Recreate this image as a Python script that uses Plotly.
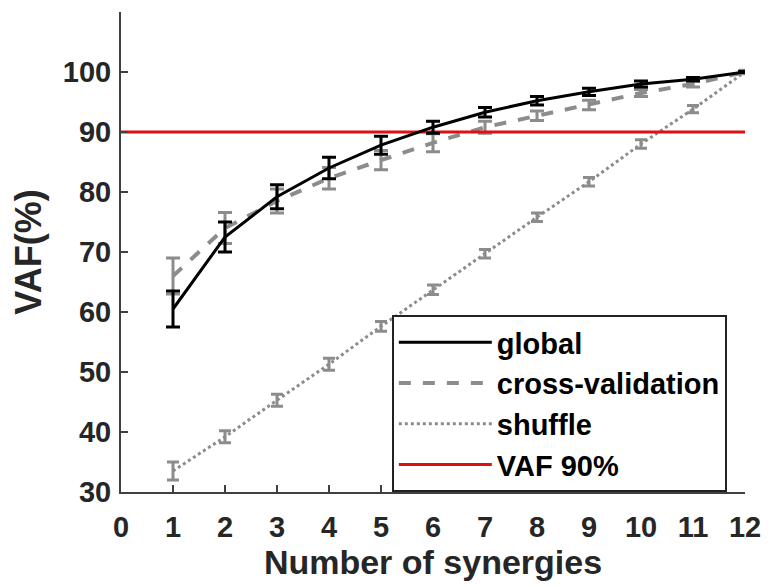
import plotly.graph_objects as go

synergies = [1, 2, 3, 4, 5, 6, 7, 8, 9, 10, 11, 12]
global_vaf = [60.5, 72.5, 79.2, 84.0, 87.8, 90.8, 93.3, 95.2, 96.7, 98.0, 98.8, 100.0]
global_err = [3.0, 2.5, 2.0, 1.8, 1.5, 1.0, 0.8, 0.7, 0.6, 0.5, 0.3, 0.1]
cv_vaf = [66.0, 74.0, 78.5, 82.3, 85.3, 88.2, 90.8, 92.7, 94.5, 96.5, 98.0, 100.0]
cv_err = [3.0, 2.6, 2.0, 1.8, 1.6, 1.5, 1.0, 0.8, 0.8, 0.6, 0.5, 0.2]
shuffle_vaf = [33.5, 39.2, 45.3, 51.3, 57.6, 63.7, 69.7, 75.8, 81.7, 88.0, 93.8, 100.0]
shuffle_err = [1.5, 1.0, 1.0, 1.0, 0.8, 0.8, 0.7, 0.7, 0.7, 0.7, 0.6, 0.3]
threshold_x = [0, 12]
threshold_y = [90, 90]
x_ticks = list(range(0, 13))
y_ticks = [30, 40, 50, 60, 70, 80, 90, 100]

GRAY = "#8c8c8c"
FONT = "Liberation Sans, Arial, sans-serif"

fig = go.Figure()
fig.add_trace(go.Scatter(
    x=synergies, y=shuffle_vaf, name="shuffle", mode="lines",
    line=dict(color=GRAY, width=3, dash="dot"),
    error_y=dict(type="data", array=shuffle_err, color=GRAY, thickness=3, width=6),
    showlegend=False,
))
fig.add_trace(go.Scatter(
    x=synergies, y=cv_vaf, name="cross-validation", mode="lines",
    line=dict(color=GRAY, width=4, dash="dash"),
    error_y=dict(type="data", array=cv_err, color=GRAY, thickness=3, width=7),
    showlegend=False,
))
fig.add_trace(go.Scatter(
    x=threshold_x, y=threshold_y, name="VAF 90%", mode="lines",
    line=dict(color="#e01010", width=3),
    showlegend=False,
))
fig.add_trace(go.Scatter(
    x=synergies, y=global_vaf, name="global", mode="lines",
    line=dict(color="black", width=3),
    error_y=dict(type="data", array=global_err, color="black", thickness=3, width=7),
    showlegend=False,
))
# legend entries in the reference order
for name, color, width, dash in [
    ("global", "black", 3, "solid"),
    ("cross-validation", GRAY, 4, "dash"),
    ("shuffle", GRAY, 3, "dot"),
    ("VAF 90%", "#e01010", 3, "solid"),
]:
    fig.add_trace(go.Scatter(
        x=[None], y=[None], name=name, mode="lines",
        line=dict(color=color, width=width, dash=dash),
    ))

fig.update_layout(
    width=773, height=587,
    margin=dict(l=121, r=22, t=12, b=94),
    plot_bgcolor="white", paper_bgcolor="white",
    font=dict(family=FONT, size=22, color="#262626"),
    showlegend=True,
    legend=dict(
        x=0.434, y=0.0, xanchor="left", yanchor="bottom",
        bgcolor="white", bordercolor="#222222", borderwidth=2,
        font=dict(family=FONT, size=29, color="black", weight="bold"),
        itemwidth=93, tracegroupgap=0,
    ),
    xaxis=dict(
        range=[0, 12], tickvals=x_ticks, ticks="inside", ticklen=7,
        tickwidth=2, tickcolor="#404040",
        showline=True, linecolor="#404040", linewidth=2, showgrid=False,
        zeroline=False, ticklabelstandoff=8,
        tickfont=dict(family=FONT, size=29, color="#262626", weight="bold"),
        title=dict(text="Number of synergies", standoff=8,
                   font=dict(family=FONT, size=34, color="#262626", weight="bold")),
    ),
    yaxis=dict(
        range=[30, 110], tickvals=y_ticks, ticks="inside", ticklen=7,
        tickwidth=2, tickcolor="#404040",
        showline=True, linecolor="#404040", linewidth=2, showgrid=False,
        zeroline=False, ticklabelstandoff=2,
        tickfont=dict(family=FONT, size=29, color="#262626", weight="bold"),
        title=dict(text="VAF(%)", standoff=10,
                   font=dict(family=FONT, size=36, color="#262626", weight="bold")),
    ),
)

fig.write_html("out.html")
